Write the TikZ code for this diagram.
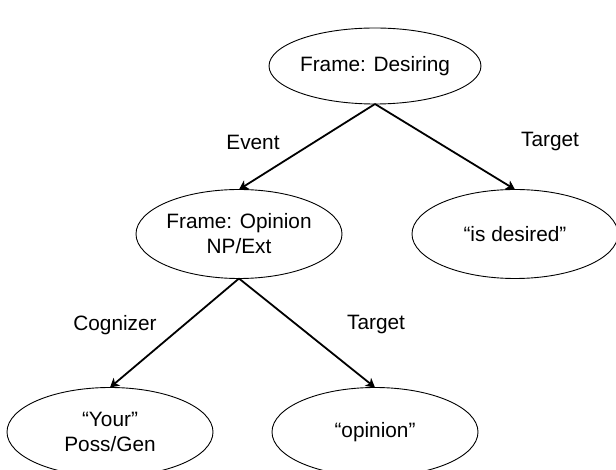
\documentclass[tikz,border=0pt]{standalone}
\usepackage{fontspec}
\setmainfont{Liberation Sans}
\usetikzlibrary{arrows.meta,shapes.geometric}

\begin{document}
\begin{tikzpicture}[x=1pt,y=-1pt,
  every node/.style={font=\fontsize{20.8}{25}\selectfont},
  elem/.style={draw,ellipse,line width=0.9pt,minimum width=206pt,minimum height=89pt,inner sep=0pt,outer sep=0pt,align=center},
  link/.style={line width=1.8pt,-{Stealth[length=9pt,width=10pt,inset=2.5pt]}}]
\clip (0,0) rectangle (616,470);
\node[elem,minimum height=76pt] (desiring) at (375,66) {Frame: Desiring};
\node[elem] (opinion) at (239,234) {Frame: Opinion\\NP/Ext};
\node[elem] (desired) at (515,234) {“is desired”};
\node[elem] (your) at (110,432) {“Your”\\Poss/Gen};
\node[elem] (word) at (375,432) {“opinion”};

\node (event) at (253,142) {Event};
\node (target1) at (550,142) {Target};
\node (cognizer) at (115,325) {Cognizer};
\node (target2) at (376,325) {Target};

\foreach \a/\b in {desiring/opinion, desiring/desired, opinion/your, opinion/word}
  \draw[link] (\a.south) -- (\b.north);
\end{tikzpicture}
\end{document}
